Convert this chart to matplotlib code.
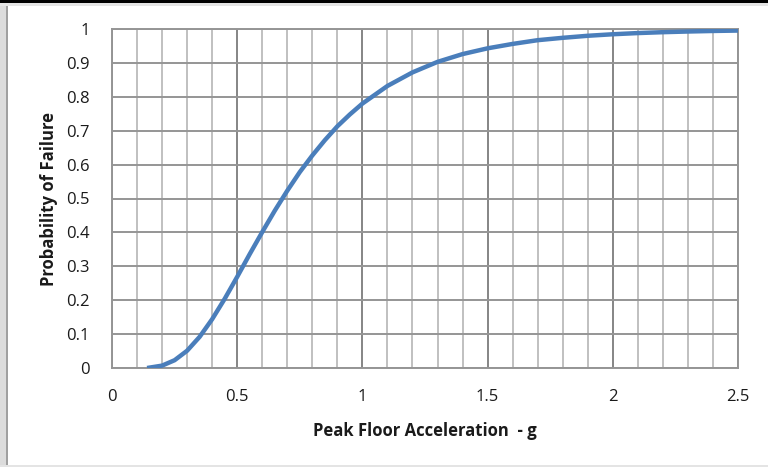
import matplotlib.pyplot as plt
from matplotlib.patches import Rectangle

# peak floor acceleration (g) and probability of failure
pfa = [0.14, 0.2, 0.25, 0.3, 0.35, 0.4, 0.45, 0.5, 0.55, 0.6, 0.65, 0.7,
       0.75, 0.8, 0.85, 0.9, 0.95, 1.0, 1.1, 1.2, 1.3, 1.4, 1.5, 1.6, 1.7,
       1.8, 1.9, 2.0, 2.1, 2.2, 2.3, 2.4, 2.5]
prob = [0.0, 0.007, 0.023, 0.051, 0.092, 0.144, 0.204, 0.269, 0.336, 0.401,
        0.464, 0.523, 0.578, 0.627, 0.672, 0.713, 0.748, 0.780, 0.832, 0.872,
        0.903, 0.926, 0.943, 0.956, 0.967, 0.974, 0.980, 0.9845, 0.988,
        0.9906, 0.9926, 0.9942, 0.9954]

x_ticks = [0, 0.5, 1, 1.5, 2, 2.5]
x_labels = ['0', '0.5', '1', '1.5', '2', '2.5']
y_ticks = [0, 0.1, 0.2, 0.3, 0.4, 0.5, 0.6, 0.7, 0.8, 0.9, 1]
y_labels = ['0', '0.1', '0.2', '0.3', '0.4', '0.5', '0.6', '0.7', '0.8', '0.9', '1']

plt.rcParams['font.family'] = ['Open Sans', 'DejaVu Sans']

fig = plt.figure(figsize=(7.68, 4.67), dpi=100)
ax = fig.add_axes([112/768, 1 - 368/467, 626/768, 339/467])

# window frame bits from the screenshot
fig.add_artist(Rectangle((0, 0), 6/768, 1, transform=fig.transFigure,
                         color='#dcdcdc', lw=0, zorder=0))
fig.add_artist(Rectangle((6/768, 0), 1.5/768, 1, transform=fig.transFigure,
                         color='#a0a0a0', lw=0, zorder=0))
fig.add_artist(Rectangle((0, 1 - 6/467), 1, 3/467, transform=fig.transFigure,
                         color='#e4e4e4', lw=0, zorder=0))
fig.add_artist(Rectangle((0, 1 - 3/467), 1, 3/467, transform=fig.transFigure,
                         color='black', lw=0, zorder=0))
fig.add_artist(Rectangle((0, 0), 1, 2/467, transform=fig.transFigure,
                         color='#e4e4e4', lw=0, zorder=0))

# grid
for v in [i / 10 for i in range(26)]:
    if v in x_ticks:
        ax.axvline(v, color='#858585', lw=1.4, zorder=1)
    else:
        ax.axvline(v, color='#c0c0c0', lw=1.4, zorder=1)
for v in y_ticks:
    ax.axhline(v, color='#959595', lw=1.4, zorder=1)

ax.plot(pfa, prob, color='#4a7ebb', lw=3.2, solid_capstyle='butt', zorder=3)

ax.set_xlim(0, 2.5)
ax.set_ylim(0, 1)
ax.set_xticks(x_ticks)
ax.set_xticklabels(x_labels)
ax.set_yticks(y_ticks)
ax.set_yticklabels(y_labels)
ax.tick_params(length=0, labelsize=12, colors='#1a1a1a')
ax.tick_params(axis='x', pad=15)
ax.tick_params(axis='y', pad=16)
for s in ax.spines.values():
    s.set_color('#959595')
    s.set_linewidth(1.4)

ax.set_xlabel('Peak Floor Acceleration  - g', fontsize=12, fontweight='bold',
              labelpad=12, color='#1a1a1a')
ax.set_ylabel('Probability of Failure', fontsize=12, fontweight='bold',
              labelpad=6, color='#1a1a1a')

fig.savefig('out.png', dpi=100)
